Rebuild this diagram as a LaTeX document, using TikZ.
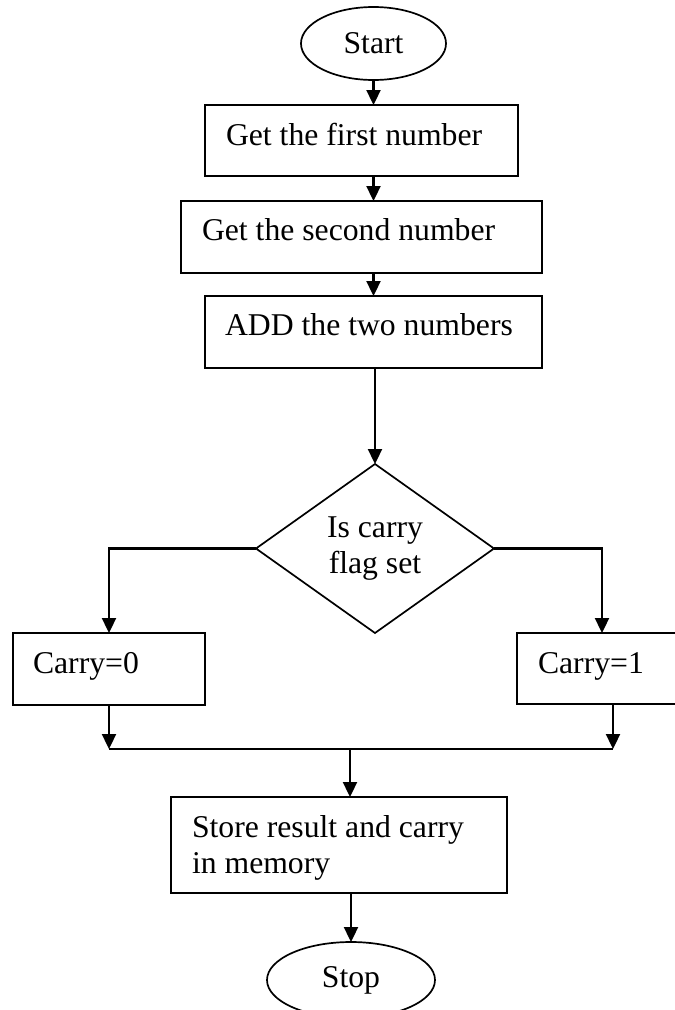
\documentclass[tikz,border=0pt]{standalone}
\usepackage{fontspec}
\setmainfont{Liberation Serif}
\usetikzlibrary{arrows.meta,shapes.geometric}
\begin{document}
\begin{tikzpicture}[x=1pt,y=-1pt,
  every node/.style={inner sep=0pt, outer sep=0pt},
  line/.style={line width=2.3pt},
  arr/.style={line, -{Triangle[length=15pt,width=14pt]}},
  boxn/.style={draw, line width=2pt, rectangle, anchor=north west},
  term/.style={draw, line width=1.7pt, ellipse, font=\fontsize{31.7}{36}\selectfont},
  dec/.style={draw, line width=1.7pt, diamond, align=center, font=\fontsize{31.7}{36}\selectfont},
  lbl/.style={anchor=base west, font=\fontsize{31.7}{36}\selectfont}
]
\useasboundingbox (0,0) rectangle (675,1010);
\clip (0,0) rectangle (675,1010);

% terminals, steps and the decision
\node[term, minimum width=145pt, minimum height=73pt] (s) at (373.5,43.5) {Start};

\node[boxn, minimum width=313pt, minimum height=71pt] (b1) at (205,105) {};
\node[lbl] (t1) at (226,145) {Get the first number};

\node[boxn, minimum width=361pt, minimum height=72pt] (b2) at (181,201) {};
\node[lbl] (t2) at (202,240) {Get the second number};

\node[boxn, minimum width=337pt, minimum height=72pt] (b3) at (205,296) {};
\node[lbl] (t3) at (225,335) {ADD the two numbers};

\node[dec, minimum width=238pt, minimum height=169pt] (d) at (375,548.5) {Is carry\\flag set};

\node[boxn, minimum width=192pt, minimum height=72pt] (c0) at (13,633) {};
\node[lbl] (tc0) at (33,673) {Carry=0};

\node[boxn, minimum width=170pt, minimum height=71pt] (c1) at (517,633) {};
\node[lbl] (tc1) at (538,673) {Carry=1};

\node[boxn, minimum width=336pt, minimum height=96pt] (st) at (171,797) {};
\node[lbl, anchor=north west, align=left] (tst) at (192,815.3) {Store result and carry\\in memory};

\node[term, minimum width=168pt, minimum height=76pt] (e) at (351,980) {Stop};

% junction points of the merge line
\coordinate (jl) at (109,749);
\coordinate (jr) at (613,749);
\coordinate (jm) at (350,749);

% connectors
\draw[arr] (s.south) -- (s.south |- b1.north);
\draw[arr] (b1.south -| s.south) -- (b2.north -| s.south);
\draw[arr] (b2.south -| s.south) -- (b3.north -| s.south);
\draw[arr] (b3.south -| d.north) -- (d.north);
\draw[arr] (d.west) -| (c0.north);
\draw[arr] (d.east) -| (c1.north);
\draw[arr] (c0.south) -- (c0.south |- jl);
\draw[arr] (c1.south -| jr) -- (jr);
\draw[line] (jl) -- (jr);
\draw[arr] (jm) -- (jm |- st.north);
\draw[arr] (st.south -| e.north) -- (e.north);
\end{tikzpicture}
\end{document}
